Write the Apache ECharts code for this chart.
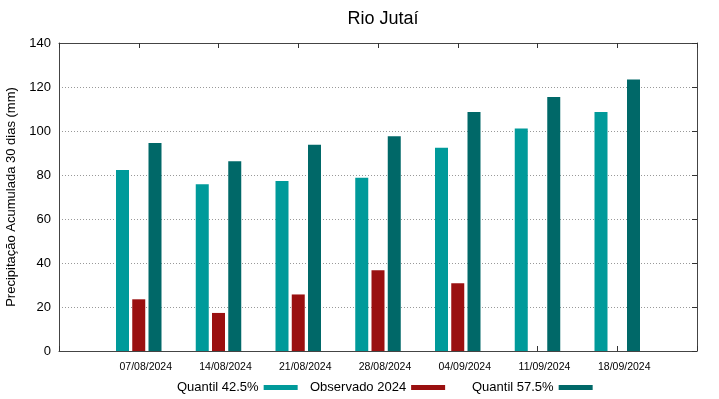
<!DOCTYPE html>
<html>
<head>
<meta charset="utf-8">
<script src="https://cdn.jsdelivr.net/npm/echarts@6/dist/echarts.min.js"></script>
<style>
  html, body { margin: 0; padding: 0; background: #fff; }
  #chart { width: 719px; height: 399px; }
</style>
</head>
<body>
<div id="chart"></div>
<script>
// semanas (datas de referência)
const dates = ['07/08/2024', '14/08/2024', '21/08/2024', '28/08/2024', '04/09/2024', '11/09/2024', '18/09/2024']
const quantil425 = [82.3, 75.8, 77.3, 78.8, 92.4, 101.1, 108.6]
const observado2024 = [23.5, 17.3, 25.7, 36.7, 30.8, null, null]
const quantil575 = [94.6, 86.2, 93.7, 97.6, 108.6, 115.4, 123.4]
const yTicks = [0, 20, 40, 60, 80, 100, 120, 140]

// eixo x vai de 0 a 8, com as datas nas posições 1..7
const pad = arr => [null, ...arr, null]
const xCats = ['', ...dates, '']

const font = 'Liberation Sans, Arial, sans-serif'
const axisColor = '#444'
const tickStyle = { color: '#333', width: 1 }

const chart = echarts.init(document.getElementById('chart'))

const legendBase = {
  top: 381,
  padding: 0,
  align: 'right',
  itemWidth: 34,
  itemHeight: 5,
  icon: 'rect',
  selectedMode: false,
  textStyle: { fontFamily: font, fontSize: 13, color: '#000' }
}

chart.setOption({
  animation: false,
  textStyle: { fontFamily: font },
  title: {
    text: 'Rio Jutaí',
    left: 378,
    top: 5,
    textAlign: 'center',
    textStyle: { fontFamily: font, fontSize: 18, fontWeight: 'normal', color: '#000' }
  },
  legend: [
    { ...legendBase, left: 177, data: ['Quantil 42.5%'] },
    { ...legendBase, left: 310, data: ['Observado 2024'] },
    { ...legendBase, left: 472, data: ['Quantil 57.5%'] }
  ],
  grid: { left: 59, right: 22, top: 43, bottom: 48, outerBoundsMode: 'none', containLabel: false },
  xAxis: [
    {
      type: 'category',
      data: xCats,
      boundaryGap: false,
      axisLine: { onZero: false, lineStyle: { color: axisColor, width: 1 } },
      axisTick: { show: true, inside: true, length: 5, interval: 0, lineStyle: tickStyle },
      axisLabel: {
        fontSize: 10.5,
        color: '#000',
        margin: 11,
        padding: [0, 0, 0, 14],
        interval: 0
      },
      splitLine: { show: false }
    },
    {
      type: 'category',
      position: 'top',
      data: xCats,
      boundaryGap: false,
      axisLine: { show: true, onZero: false, lineStyle: { color: axisColor, width: 1 } },
      axisTick: { show: true, inside: true, length: 5, interval: 0, lineStyle: tickStyle },
      axisLabel: { show: false },
      splitLine: { show: false }
    }
  ],
  yAxis: [
    {
      type: 'value',
      min: yTicks[0],
      max: yTicks[yTicks.length - 1],
      interval: 20,
      name: 'Precipitação Acumulada 30 dias (mm)',
      nameLocation: 'middle',
      nameGap: 31,
      nameTextStyle: { fontFamily: font, fontSize: 13, color: '#000' },
      axisLine: { show: true, onZero: false, lineStyle: { color: axisColor, width: 1 } },
      axisTick: { show: false },
      axisLabel: { fontSize: 13, color: '#000', margin: 8 },
      splitLine: { show: true, lineStyle: { type: [1, 2], color: '#999', width: 1 } }
    },
    {
      type: 'value',
      position: 'right',
      min: yTicks[0],
      max: yTicks[yTicks.length - 1],
      interval: 20,
      axisLine: { show: true, onZero: false, lineStyle: { color: axisColor, width: 1 } },
      axisTick: { show: true, inside: true, length: 5, lineStyle: tickStyle },
      axisLabel: { show: false },
      splitLine: { show: false }
    }
  ],
  series: [
    {
      name: 'Quantil 42.5%',
      type: 'bar',
      data: pad(quantil425),
      barWidth: 13,
      barGap: '25%',
      itemStyle: { color: '#009a9a' }
    },
    {
      name: 'Observado 2024',
      type: 'bar',
      data: pad(observado2024),
      barWidth: 13,
      barGap: '25%',
      itemStyle: { color: '#9a1010' }
    },
    {
      name: 'Quantil 57.5%',
      type: 'bar',
      data: pad(quantil575),
      barWidth: 13,
      barGap: '25%',
      itemStyle: { color: '#006868' }
    }
  ]
})

window.addEventListener('resize', () => chart.resize())
</script>
</body>
</html>
